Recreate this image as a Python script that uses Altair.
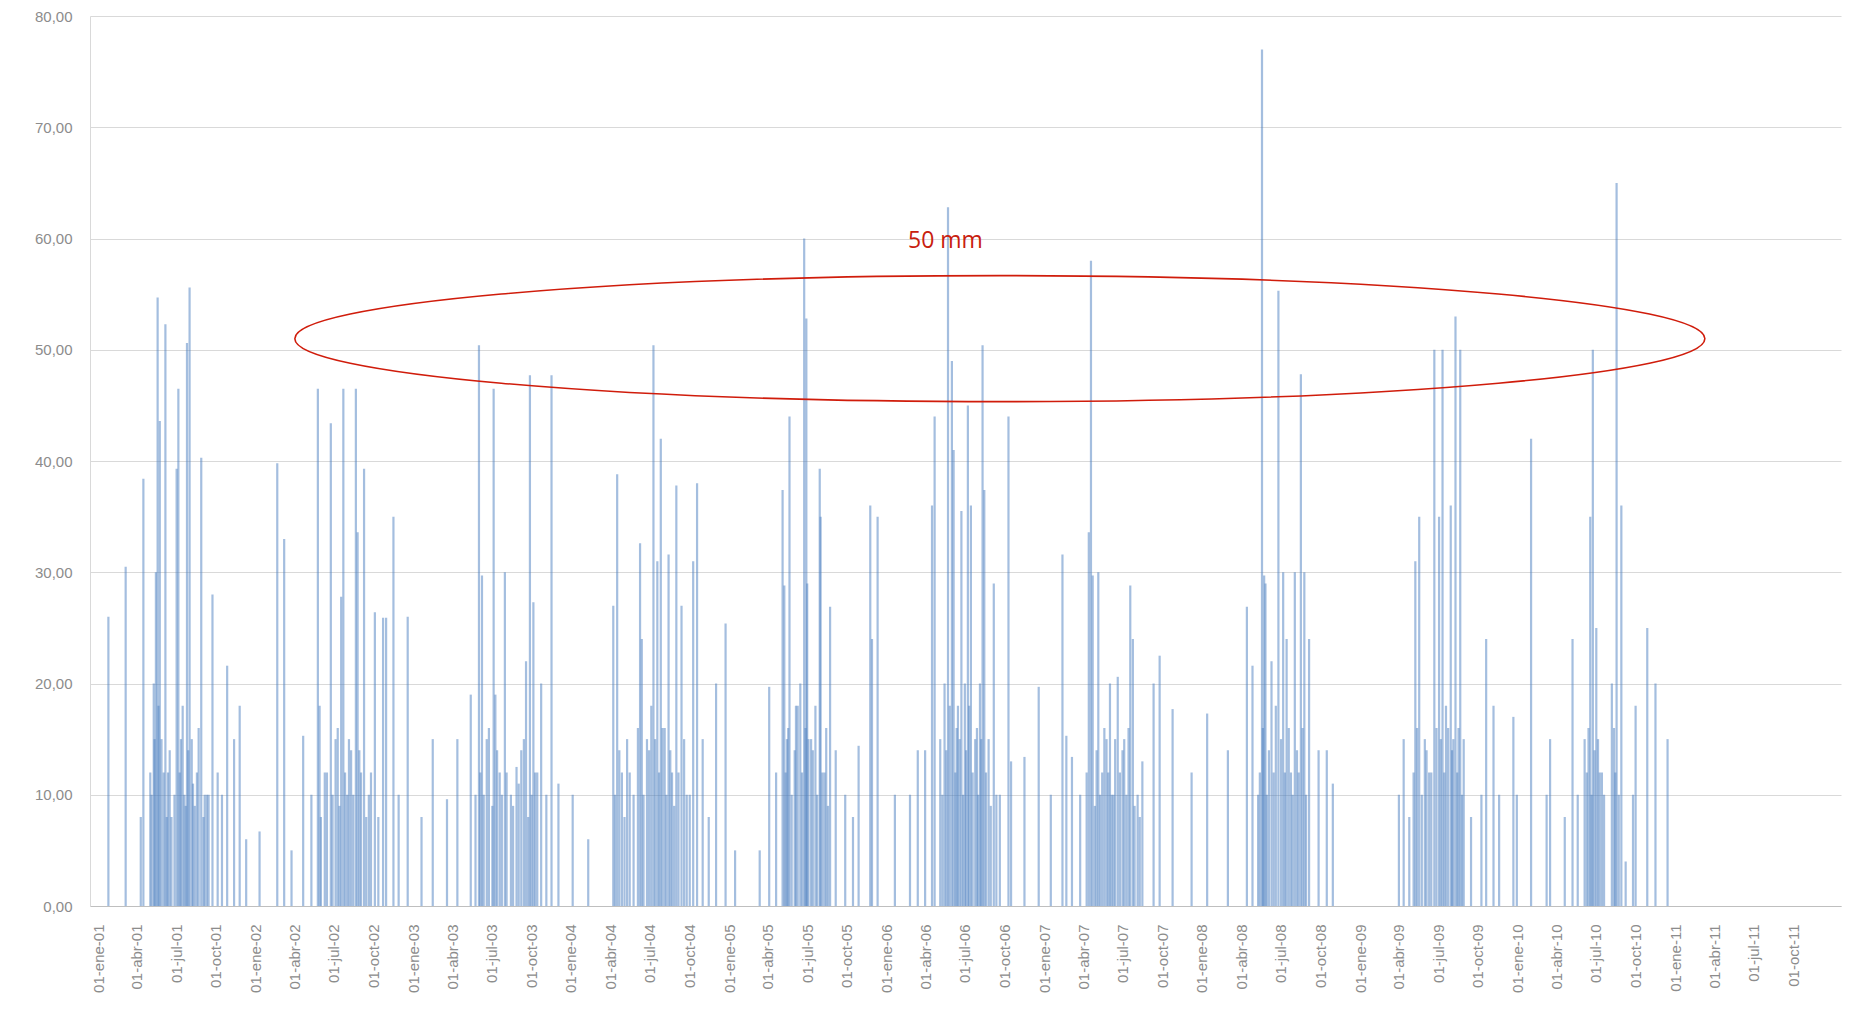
import altair as alt
import pandas as pd

# ---- daily precipitation (mm) ----
dates_2001 = ["2001-01-25","2001-03-06","2001-04-10","2001-04-16","2001-05-02","2001-05-10","2001-05-15","2001-05-19","2001-05-24","2001-05-28","2001-06-06","2001-06-12","2001-06-20","2001-07-02","2001-07-06","2001-07-12","2001-07-20","2001-07-26","2001-08-01","2001-08-06","2001-08-18","2001-08-28","2001-09-05","2001-09-14","2001-09-23","2001-10-05","2001-10-15","2001-10-27","2001-11-12","2001-11-25","2001-12-10"]
mm_2001 = [26,30.5,8,38.4,12,20,30,54.7,43.6,15,52.3,12,8,39.3,46.5,15,10,50.6,55.6,15,12,40.3,10,10,28,12,10,21.6,15,18,6]

dates_2002 = ["2002-01-10","2002-02-20","2002-03-08","2002-03-25","2002-04-21","2002-05-10","2002-05-25","2002-05-29","2002-06-10","2002-06-24","2002-07-05","2002-07-18","2002-07-23","2002-08-01","2002-08-10","2002-08-21","2002-08-25","2002-09-02","2002-09-09","2002-09-20","2002-10-04","2002-10-12","2002-10-23","2002-10-30","2002-11-16","2002-11-28","2002-12-19"]
mm_2002 = [6.7,39.8,33,5,15.3,10,46.5,18,12,43.4,15,27.8,46.5,10,14,46.5,33.6,12,39.3,10,26.4,8,25.9,25.9,35,10,26]

dates_2003 = ["2003-01-20","2003-02-15","2003-03-20","2003-04-13","2003-05-14","2003-05-25","2003-06-02","2003-06-09","2003-06-20","2003-07-06","2003-07-10","2003-07-20","2003-08-01","2003-08-15","2003-08-28","2003-09-08","2003-09-19","2003-09-28","2003-10-06","2003-10-15","2003-10-24","2003-11-05","2003-11-17","2003-12-03"]
mm_2003 = [8,15,9.6,15,19,10,50.4,29.7,15,46.5,19,12,30,10,12.5,14,22,47.7,27.3,12,20,10,47.7,11]

dates_2004 = ["2004-01-05","2004-02-10","2004-04-08","2004-04-17","2004-04-28","2004-05-10","2004-05-25","2004-06-09","2004-06-13","2004-06-25","2004-07-10","2004-07-19","2004-07-27","2004-08-05","2004-08-14","2004-08-22","2004-09-01","2004-09-13","2004-09-25","2004-10-10","2004-10-19","2004-11-01","2004-11-15","2004-12-02","2004-12-24"]
mm_2004 = [10,6,27,38.8,12,15,10,32.6,24,15,50.4,31,42,16,31.6,12,37.8,27,10,31,38,15,8,20,25.4]

dates_2005 = ["2005-01-15","2005-03-13","2005-04-04","2005-04-20","2005-05-05","2005-05-09","2005-05-15","2005-05-21","2005-06-05","2005-06-15","2005-06-24","2005-06-29","2005-07-01","2005-07-10","2005-07-20","2005-07-30","2005-08-01","2005-08-10","2005-08-23","2005-09-05","2005-09-27","2005-10-15","2005-10-28","2005-11-24","2005-11-28","2005-12-11"]
mm_2005 = [5,5,19.7,12,37.4,28.8,15,44,18,20,60,52.8,29,15,18,39.3,35,12,26.9,14,10,8,14.4,36,24,35]

dates_2006 = ["2006-01-20","2006-02-24","2006-03-14","2006-03-31","2006-04-16","2006-04-22","2006-05-05","2006-05-15","2006-05-23","2006-06-01","2006-06-05","2006-06-15","2006-06-23","2006-07-01","2006-07-08","2006-07-15","2006-07-25","2006-08-05","2006-08-11","2006-08-15","2006-08-25","2006-09-06","2006-09-20","2006-10-10","2006-10-16","2006-11-16","2006-12-19"]
mm_2006 = [10,10,14,14,36,44,15,20,62.8,49,41,18,35.5,20,45,36,15,20,50.4,37.4,15,29,10,44,13,13.4,19.7]

dates_2007 = ["2007-01-16","2007-02-12","2007-02-21","2007-03-06","2007-03-25","2007-04-14","2007-04-19","2007-04-23","2007-05-06","2007-05-15","2007-05-25","2007-06-02","2007-06-10","2007-06-20","2007-07-05","2007-07-19","2007-07-25","2007-08-05","2007-08-16","2007-09-11","2007-09-25","2007-10-25","2007-12-08"]
mm_2007 = [10,31.6,15.3,13.4,10,33.6,58,29.7,30,12,15,20,10,20.6,15,28.8,24,10,13,20,22.5,17.7,12]

dates_2008 = ["2008-01-13","2008-03-01","2008-04-14","2008-04-27","2008-05-10","2008-05-19","2008-05-24","2008-05-27","2008-06-10","2008-06-26","2008-07-07","2008-07-15","2008-07-25","2008-08-03","2008-08-17","2008-08-25","2008-09-05","2008-09-27","2008-10-16","2008-10-30"]
mm_2008 = [17.3,14,26.9,21.6,10,77,29.7,29,22,55.3,30,24,12,30,47.8,30,24,14,14,11]

dates_2009 = ["2009-04-01","2009-04-12","2009-04-25","2009-05-09","2009-05-18","2009-05-31","2009-06-10","2009-06-22","2009-07-03","2009-07-11","2009-07-19","2009-07-30","2009-08-05","2009-08-10","2009-08-21","2009-08-29","2009-09-15","2009-10-09","2009-10-20","2009-11-06","2009-11-19","2009-12-22","2009-12-30"]
mm_2009 = [10,15,8,31,35,15,12,50,35,50,18,36,15,53,50,15,8,10,24,18,10,17,10]

dates_2010 = ["2010-02-01","2010-03-09","2010-03-17","2010-04-20","2010-05-08","2010-05-20","2010-06-05","2010-06-18","2010-06-24","2010-07-02","2010-07-15","2010-08-07","2010-08-18","2010-08-29","2010-09-08","2010-09-25","2010-10-01","2010-10-28","2010-11-16","2010-12-14"]
mm_2010 = [42,10,15,8,24,10,15,35,50,25,12,20,65,36,4,10,18,25,20,15]

# smaller rainy days forming the dense dark base of each wet season (estimated)
dates_small = ["2001-05-05","2001-05-12","2001-05-21","2001-06-02","2001-06-09","2001-06-16","2001-06-27","2001-07-09","2001-07-16","2001-07-23","2001-07-29","2001-08-09","2001-08-13","2001-08-22","2001-09-02","2001-09-10",
               "2002-06-01","2002-06-15","2002-06-28","2002-07-10","2002-07-14","2002-07-27","2002-08-05","2002-08-15","2002-08-29","2002-09-14","2002-09-25",
               "2003-06-05","2003-06-13","2003-06-25","2003-07-03","2003-07-14","2003-07-25","2003-08-05","2003-08-20","2003-09-02","2003-09-14","2003-09-24","2003-10-02","2003-10-10",
               "2004-04-12","2004-04-22","2004-05-04","2004-05-16","2004-06-04","2004-06-17","2004-06-30","2004-07-05","2004-07-14","2004-07-23","2004-07-31","2004-08-09","2004-08-18","2004-08-27","2004-09-06","2004-09-19","2004-10-02",
               "2005-05-12","2005-05-18","2005-05-26","2005-06-02","2005-06-09","2005-06-19","2005-06-27","2005-07-04","2005-07-14","2005-07-24","2005-08-05","2005-08-14","2005-08-18",
               "2006-05-10","2006-05-19","2006-05-27","2006-06-09","2006-06-12","2006-06-19","2006-06-27","2006-07-04","2006-07-11","2006-07-19","2006-07-29","2006-08-01","2006-08-08","2006-08-19","2006-08-30","2006-09-12",
               "2007-04-09","2007-04-28","2007-05-02","2007-05-10","2007-05-20","2007-05-29","2007-06-06","2007-06-14","2007-06-25","2007-07-01","2007-07-10","2007-07-15","2007-07-29","2007-08-10",
               "2008-05-14","2008-05-21","2008-05-30","2008-06-04","2008-06-15","2008-06-20","2008-07-02","2008-07-11","2008-07-20","2008-07-29","2008-08-08","2008-08-12","2008-08-21","2008-08-29",
               "2009-05-05","2009-05-13","2009-05-24","2009-06-04","2009-06-15","2009-06-27","2009-07-07","2009-07-15","2009-07-24","2009-08-02","2009-08-14","2009-08-17","2009-08-25",
               "2010-06-10","2010-06-14","2010-06-21","2010-06-28","2010-07-06","2010-07-10","2010-07-20","2010-08-12","2010-08-15","2010-08-23"]
mm_small = [10,15,18,12,8,14,10,12,18,9,14,11,9,16,8,10,
            8,12,10,16,9,12,15,10,14,8,12,
            12,10,16,9,14,10,12,9,11,15,8,10,12,
            10,14,8,12,16,10,14,18,15,12,16,10,14,9,12,15,10,
            12,16,10,14,18,12,16,15,14,10,12,16,9,
            10,14,18,12,16,15,10,14,18,12,16,10,15,12,9,10,
            12,9,14,10,16,12,10,15,12,14,10,16,9,8,
            12,16,10,14,12,18,15,12,16,10,14,12,16,10,
            12,16,10,14,12,16,15,12,16,14,12,16,10,
            12,16,10,14,15,12,10,16,12,10]

# ---- axis ticks / labels ----
tick_dates = [f"{y}-{m}-01" for y in range(2001, 2012) for m in ("01", "04", "07", "10")]
meses = ["ene", "feb", "mar", "abr", "may", "jun", "jul", "ago", "sep", "oct", "nov", "dic"]
y_ticks = [0, 10, 20, 30, 40, 50, 60, 70, 80]
x_domain = ["2000-12-25", "2012-01-08"]

# annotation
note_text = "50 mm"
note_date = "2006-05-17"
note_y = 59.8
ellipse_date = "2006-09-20"
ellipse_y = 51.0

all_dates = (dates_2001 + dates_2002 + dates_2003 + dates_2004 + dates_2005 +
             dates_2006 + dates_2007 + dates_2008 + dates_2009 + dates_2010 + dates_small)
all_mm = (mm_2001 + mm_2002 + mm_2003 + mm_2004 + mm_2005 +
          mm_2006 + mm_2007 + mm_2008 + mm_2009 + mm_2010 + mm_small)
df = pd.DataFrame({"fecha": all_dates, "mm": all_mm})


def ms(s):
    return int(pd.Timestamp(s, tz="UTC").value // 10**6)


mes_js = "[" + ",".join(f"'{m}'" for m in meses) + "]"
x_label_expr = "'01-' + " + mes_js + "[utcmonth(datum.value)] + '-' + utcFormat(datum.value, '%y')"

x_scale = alt.Scale(type="utc", domain=[ms(x_domain[0]), ms(x_domain[1])])
y_scale = alt.Scale(domain=[0, 80], nice=False)

bars = alt.Chart(df).mark_bar(size=2.2, color="#4a7ebf", opacity=0.5).encode(
    x=alt.X("fecha:T", scale=x_scale, title=None,
            axis=alt.Axis(values=[ms(d) for d in tick_dates], labelExpr=x_label_expr,
                          labelAngle=270, labelAlign="right", labelBaseline="middle",
                          labelPadding=18, ticks=False, grid=False,
                          labelFontSize=15, labelColor="#8c8c8c", labelFont="Liberation Sans",
                          domainColor="#bfbfbf", labelOverlap=False)),
    y=alt.Y("mm:Q", scale=y_scale, title=None,
            axis=alt.Axis(values=y_ticks,
                          labelExpr="replace(format(datum.value, '.2f'), '.', ',')",
                          ticks=False, labelPadding=18, grid=True,
                          gridColor="#d9d9d9", gridWidth=1.2,
                          labelFontSize=15, labelColor="#8c8c8c", labelFont="Liberation Sans",
                          domainColor="#d9d9d9")),
)

k = 0.5523
b = 0.0894
ell_path = (f"M -1 0 C -1 {-k*b:.5f} {-k:.5f} {-b:.5f} 0 {-b:.5f} "
            f"C {k:.5f} {-b:.5f} 1 {-k*b:.5f} 1 0 "
            f"C 1 {k*b:.5f} {k:.5f} {b:.5f} 0 {b:.5f} "
            f"C {-k:.5f} {b:.5f} -1 {k*b:.5f} -1 0 Z")

ell_df = pd.DataFrame({"fecha": [ellipse_date], "mm": [ellipse_y]})
ellipse = alt.Chart(ell_df).mark_point(shape=ell_path, size=1410 ** 2, filled=False,
                                       stroke="#d01c0b", strokeWidth=1.6, opacity=1).encode(
    x=alt.X("fecha:T", scale=x_scale),
    y=alt.Y("mm:Q", scale=y_scale),
)

note_df = pd.DataFrame({"fecha": [note_date], "mm": [note_y], "t": [note_text]})
note = alt.Chart(note_df).mark_text(font="Open Sans", fontSize=23, color="#c8200e",
                                    baseline="middle", align="center").encode(
    x=alt.X("fecha:T", scale=x_scale),
    y=alt.Y("mm:Q", scale=y_scale),
    text="t:N",
)

chart = alt.layer(bars, ellipse, note).properties(
    width=1751, height=890,
    autosize=alt.AutoSizeParams(type="none"),
    padding={"left": 82, "top": 8, "right": 16, "bottom": 116},
    background="white",
).configure_view(strokeWidth=0)

chart.save("out.html", embed_options={"renderer": "svg", "actions": False})
